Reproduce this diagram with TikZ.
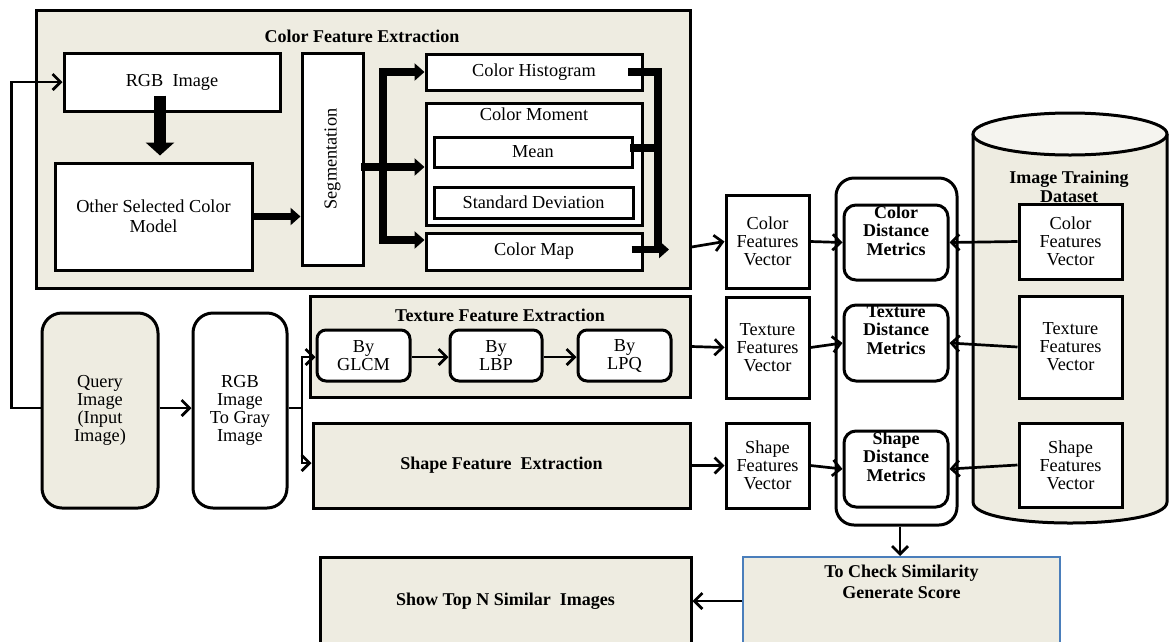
\documentclass[tikz,border=0pt]{standalone}
\usepackage{fontspec}
\setmainfont{Liberation Serif}
\usetikzlibrary{arrows.meta}
\definecolor{paper}{HTML}{EEECE1}
\definecolor{paperlt}{HTML}{F5F4EF}
\definecolor{scoreblue}{HTML}{4A7EBB}
\newcommand\dgtxt{\fontsize{18.3}{18}\selectfont}
\newcommand\dgbf{\fontsize{18}{18.5}\selectfont\bfseries}

\begin{document}
\begin{tikzpicture}[x=1pt,y=-1pt,
  box/.style={draw,line width=3pt,inner sep=0pt,align=center,font=\dgtxt,fill=white},
  panel/.style={box,fill=paper},
  sz/.style 2 args={minimum width=#1pt,minimum height=#2pt},
  lbl/.style={inner sep=1pt,align=center,font=\dgtxt},
  blbl/.style={inner sep=1pt,align=center,font=\dgbf},
  arr/.style={line width=2.7pt,-{Straight Barb[length=8pt,width=16pt]}},
  fat/.style={line width=7.5pt,line cap=rect},
  fatarr/.style={line width=7.5pt,-{Triangle[width=17pt,length=10pt]}},
  bigarr/.style={line width=12pt,-{Triangle[width=28pt,length=13pt]}},
]
\path[use as bounding box] (0,0) rectangle (1169,641);

% ---------- colour feature extraction ----------
\node[panel,sz={654}{278}] (cfe) at (363,149) {};
\node[blbl] (cfet) at (362,36) {Color\ Feature\ Extraction};
\node[box,sz={216}{58}] (rgb) at (172,82) {RGB\ \ Image};
\node[box,sz={197}{107},font=\fontsize{18.3}{20}\selectfont] (other) at (153.5,216.5) {Other\ Selected\ Color\\Model};
\node[box,sz={61}{212}] (seg) at (332.5,159) {};
\node[lbl,rotate=90] (segt) at (seg.center) {Segmentation};
\node[box,sz={216}{36}] (hist) at (534,72) {Color Histogram};
\node[box,sz={216}{122}] (moment) at (534,164) {};
\node[lbl] (momt) at (534,114) {Color Moment};
\node[box,sz={198}{30}] (mean) at (533,152) {Mean};
\node[box,sz={199}{31}] (std) at (533.5,202.5) {Standard Deviation};
\node[box,sz={216}{37}] (cmap) at (534,251.5) {Color Map};

% ---------- texture and shape extraction ----------
\node[panel,sz={380}{101}] (tfe) at (500,346.5) {};
\node[blbl] (tfet) at (500,315) {Texture Feature Extraction};
\node[box,rounded corners=9pt,sz={93}{51}] (glcm) at (363.5,355.5) {By\\GLCM};
\node[box,rounded corners=9pt,sz={92}{51}] (lbp) at (496,355.5) {By\\LBP};
\node[box,rounded corners=9pt,sz={93}{51}] (lpq) at (624.5,355.5) {By\\LPQ};
\node[panel,sz={377}{85},font=\dgbf] (sfe) at (501.5,465.5) {Shape Feature\ \ Extraction};

% ---------- input side ----------
\node[panel,rounded corners=20pt,sz={116}{195}] (query) at (100,410.5) {Query\\Image\\(Input\\Image)};
\node[box,rounded corners=20pt,sz={94}{195}] (gray) at (240,410.5) {RGB\\Image\\To Gray\\Image};

% ---------- query feature vectors ----------
\node[box,sz={83}{93}] (cfv) at (767.5,241.5) {Color\\Features\\Vector};
\node[box,sz={83}{101}] (tfv) at (767.5,347.5) {Texture\\Features\\Vector};
\node[box,sz={83}{85}] (sfv) at (767.5,465.5) {Shape\\Features\\Vector};

% ---------- distance metrics ----------
\node[box,rounded corners=18pt,sz={121}{347}] (metrics) at (896.5,351.5) {};
\node[box,rounded corners=12pt,sz={104}{75}] (cdm) at (896,242.5) {};
\node[box,rounded corners=12pt,sz={104}{76}] (tdm) at (896,343) {};
\node[box,rounded corners=12pt,sz={104}{76}] (sdm) at (896,469) {};
\node[blbl,anchor=north] (cdmt) at ([yshift=-1pt]cdm.north) {Color\\Distance\\Metrics};
\node[blbl,anchor=north] (tdmt) at ([yshift=-1pt]tdm.north) {Texture\\Distance\\Metrics};
\node[blbl,anchor=north] (sdmt) at ([yshift=-1pt]sdm.north) {Shape\\Distance\\Metrics};

% ---------- training data store ----------
\draw[line width=3pt,fill=paper] (973,134) -- (973,502)
  .. controls (973,530) and (1167,530) .. (1167,502) -- (1167,134);
\draw[line width=3pt,fill=paperlt] (1070,134) ellipse [x radius=97, y radius=21];
\node[blbl,anchor=north] (dbt) at (1069,170) {Image Training\\Dataset};
\node[box,sz={103}{75}] (ccv) at (1070.5,241.5) {Color\\Features\\Vector};
\node[box,sz={103}{102}] (ctv) at (1070.5,347) {Texture\\Features\\Vector};
\node[box,sz={103}{84}] (csv) at (1070.5,465) {Shape\\Features\\Vector};

% ---------- scoring and output ----------
\node[draw=scoreblue,line width=2pt,fill=paper,sz={317}{88}] (score) at (901.5,601) {};
\node[blbl,anchor=north,font=\fontsize{18}{21}\selectfont\bfseries] (scoret) at (901.5,564) {To Check Similarity\\Generate Score};
\node[panel,sz={371}{88},font=\dgbf] (show) at (505.5,601) {Show Top N Similar\ \ Images};

% ---------- connectors ----------
\draw[arr] ([yshift=2.5pt]query.west) -- ++(-29,0) |- (rgb.west);
\draw[arr] ([yshift=2.5pt]query.east) -- ([yshift=2.5pt]gray.west);
\coordinate (gj) at (302,408);
\draw[arr] ([yshift=2.5pt]gray.east) -- (gj) |- ([yshift=-1.5pt]glcm.west);
\draw[arr] (gj) |- ([yshift=2.5pt]sfe.west);
\draw[arr] ([yshift=-1.5pt]glcm.east) -- ([yshift=-1.5pt]lbp.west);
\draw[arr] ([yshift=-1.5pt]lbp.east) -- ([yshift=-1.5pt]lpq.west);

\draw[bigarr,shorten >=6pt] ([xshift=-12pt,yshift=17pt]rgb.south) -- ([xshift=-12pt]rgb.south |- other.north);
\draw[fatarr] (other.east) -- (other.east -| seg.west);

\coordinate (sj) at (383,167);
\coordinate (st) at (383,72);
\coordinate (sb) at (383,240);
\draw[fat] ([yshift=-8pt]seg.east) -- (sj);
\draw[fat] (st) -- (sb);
\draw[fatarr] (st) -- (hist.west);
\draw[fatarr] (sj) -- (sj -| moment.west);
\draw[fatarr] (sb) -- (sb -| cmap.west);

\coordinate (ct) at (658,72);
\coordinate (cb) at (658,249.5);
\coordinate (cmo) at (669,249.5);
\draw[fat] ([xshift=-12pt]hist.east) -- (ct) -- (cb);
\draw[fat] ([yshift=4pt]mean.east) -- ([yshift=4pt]mean.east -| ct);
\draw[fatarr] ([xshift=-12pt,yshift=2pt]cmap.east) -- (cmo);

\draw[arr] ([yshift=-98pt]cfe.east) -- (cfv.west);
\draw[arr] (tfe.east) -- (tfv.west);
\draw[arr] (sfe.east) -- (sfv.west);
\draw[arr] (cfv.east) -- (cdm.west);
\draw[arr] (tfv.east) -- (tdm.west);
\draw[arr] (sfv.east) -- (sdm.west);
\draw[arr] (ccv.west) -- (cdm.east);
\draw[arr] (ctv.west) -- (tdm.east);
\draw[arr] (csv.west) -- (sdm.east);
\draw[arr] ([xshift=3.5pt]metrics.south) -- ([xshift=3.5pt]metrics.south |- score.north);
\draw[arr] (score.west) -- (score.west -| show.east);
\end{tikzpicture}
\end{document}
